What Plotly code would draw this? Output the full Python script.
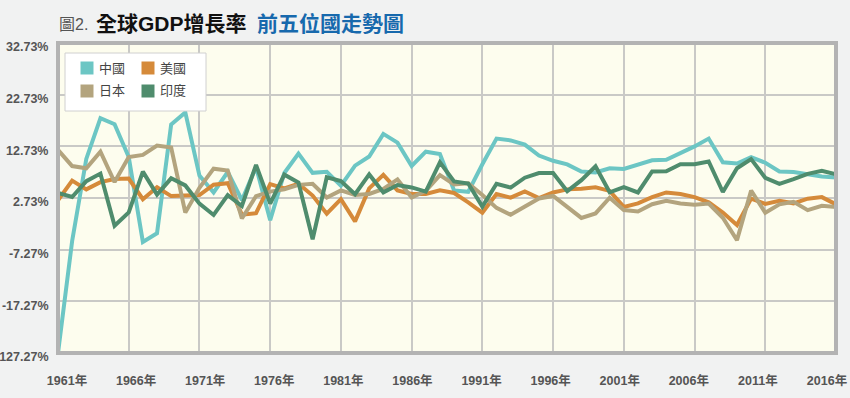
import plotly.graph_objects as go

years = list(range(1961, 2017))

china = [-27.27, -5.58, 10.30, 18.18, 17.00, 10.65, -5.77, -4.10, 16.94, 19.30,
         7.06, 3.81, 7.76, 2.31, 8.72, -1.57, 7.57, 11.33, 7.60, 7.81,
         5.11, 9.00, 10.77, 15.14, 13.44, 8.94, 11.69, 11.23, 4.19, 3.92,
         9.26, 14.22, 13.87, 13.05, 10.95, 9.93, 9.23, 7.84, 7.67, 8.49,
         8.34, 9.13, 10.04, 10.11, 11.40, 12.72, 14.23, 9.65, 9.40, 10.64,
         9.55, 7.86, 7.77, 7.30, 6.90, 6.70]
usa = [2.30, 6.10, 4.40, 5.80, 6.40, 6.50, 2.50, 4.80, 3.10, 3.20,
       3.30, 5.30, 5.60, -0.50, -0.20, 5.40, 4.60, 5.50, 3.20, -0.30,
       2.50, -1.80, 4.60, 7.20, 4.20, 3.50, 3.50, 4.20, 3.70, 1.90,
       -0.10, 3.50, 2.80, 4.00, 2.70, 3.80, 4.40, 4.50, 4.80, 4.10,
       1.00, 1.70, 2.90, 3.80, 3.50, 2.90, 1.90, -0.10, -2.50, 2.60,
       1.60, 2.20, 1.70, 2.60, 2.90, 1.50]
japan = [12.04, 8.91, 8.47, 11.68, 5.82, 10.64, 11.08, 12.88, 12.48, -0.10,
         4.70, 8.41, 8.03, -1.23, 3.09, 3.97, 4.39, 5.27, 5.48, 2.82,
         4.21, 3.31, 3.52, 4.50, 6.33, 2.83, 4.11, 7.15, 5.37, 5.57,
         3.32, 0.82, -0.52, 1.09, 2.63, 3.13, 0.98, -1.13, -0.25, 2.78,
         0.41, 0.12, 1.53, 2.20, 1.66, 1.42, 1.65, -1.09, -5.42, 4.19,
         -0.12, 1.50, 2.00, 0.38, 1.22, 1.00]
india = [3.72, 2.93, 5.99, 7.45, -2.64, -0.06, 7.83, 3.39, 6.54, 5.16,
         1.64, -0.55, 3.30, 1.19, 9.15, 1.66, 7.25, 5.71, -5.24, 6.74,
         6.01, 3.48, 7.29, 3.82, 5.25, 4.78, 3.97, 9.63, 5.95, 5.53,
         1.06, 5.48, 4.75, 6.66, 7.57, 7.55, 4.05, 6.18, 8.85, 3.84,
         4.82, 3.80, 7.86, 7.92, 9.28, 9.26, 9.80, 3.89, 8.48, 10.26,
         6.64, 5.46, 6.39, 7.41, 8.00, 7.30]

series_names = ["中國", "美國", "日本", "印度"]
series_values = [china, usa, japan, india]
series_colors = ["#6cc6c4", "#d58a3a", "#b3a47e", "#4f8c6d"]

y_tickvals = [-27.27, -17.27, -7.27, 2.73, 12.73, 22.73, 32.73]
y_ticktext = ["-127.27%", "-17.27%", "-7.27%", "2.73%", "12.73%", "22.73%", "32.73%"]
x_tickvals = list(range(1961, 2017, 5))
x_ticktext = [f"{y}年" for y in x_tickvals]

title_prefix = "圖2."
title_main = "全球GDP增長率"
title_sub = "前五位國走勢圖"

W, H = 850, 398
L, R, T, B = 58, 836, 43, 353  # plot area pixels
PAGE_BG = "#f1f2f2"

def px(x):
    return (x - L) / (R - L)

def py(y):
    return (B - y) / (B - T)

FONT = "Liberation Sans, Arial, Noto Sans CJK TC, sans-serif"

fig = go.Figure()
for name, vals, col in zip(series_names, series_values, series_colors):
    fig.add_trace(go.Scatter(x=years, y=vals, mode="lines", name=name,
                             line=dict(color=col, width=4), showlegend=False,
                             hoverinfo="skip"))

# dummy trace on xaxis2 that only carries the year labels
fig.add_trace(go.Scatter(x=[years[0]], y=[None], xaxis="x2", showlegend=False,
                         hoverinfo="skip"))

label_first_px, label_last_px = 67, 827
span = (label_last_px - label_first_px) / (years[-1] - years[0])
x2_range = [years[0] - (label_first_px - L) / span,
            years[0] + (R - label_first_px) / span]

tickfont = dict(family=FONT, size=12.5, color="#555555", weight="bold")

fig.update_layout(
    width=W, height=H,
    margin=dict(l=L, r=W - R, t=T, b=H - B, pad=0),
    paper_bgcolor=PAGE_BG,
    plot_bgcolor="#fdfdee",
    showlegend=False,
    font=dict(family=FONT),
    xaxis=dict(range=[years[0], years[-1]], tickvals=x_tickvals,
               showticklabels=False, showgrid=True, gridcolor="#c9c9c6",
               gridwidth=2, zeroline=False, showline=False, automargin=False),
    xaxis2=dict(range=x2_range, overlaying="x", anchor="y", side="bottom",
                tickvals=x_tickvals, ticktext=x_ticktext, showgrid=False,
                zeroline=False, showline=False, ticks="outside", ticklen=16,
                tickcolor="rgba(0,0,0,0)", tickfont=tickfont, automargin=False),
    yaxis=dict(range=[y_tickvals[0], y_tickvals[-1]], tickvals=y_tickvals,
               ticktext=y_ticktext, showgrid=True, gridcolor="#c9c9c6",
               gridwidth=2, zeroline=False, showline=False, ticks="outside",
               ticklen=6, tickcolor="rgba(0,0,0,0)", tickfont=tickfont,
               ticklabelshift=4, automargin=False),
)

shapes = []
shapes.append(dict(type="rect", xref="paper", yref="paper", x0=0, x1=1, y0=0, y1=1,
                   line=dict(color="#b3b3b3", width=4), layer="above"))
shapes.append(dict(type="rect", xref="paper", yref="paper", x0=px(65), x1=px(206),
                   y0=py(111), y1=py(53), fillcolor="#ffffff",
                   line=dict(color="#d0d0d0", width=1), layer="above"))
annotations = []
legend_pos = [(87, 68), (148, 68), (87, 91), (148, 91)]
for (cx, cy), name, col in zip(legend_pos, series_names, series_colors):
    shapes.append(dict(type="rect", xref="paper", yref="paper",
                       x0=px(cx - 6.5), x1=px(cx + 6.5), y0=py(cy + 6.5), y1=py(cy - 6.5),
                       fillcolor=col, line=dict(width=0), layer="above"))
    annotations.append(dict(xref="paper", yref="paper", x=px(cx + 10), y=py(cy),
                            xanchor="left", yanchor="middle", showarrow=False,
                            text=name, font=dict(family=FONT, size=13, color="#444444")))

annotations.append(dict(xref="paper", yref="paper", x=px(57), y=py(24),
                        xanchor="left", yanchor="middle", showarrow=False,
                        text=title_prefix, font=dict(family=FONT, size=16, color="#555555")))
annotations.append(dict(xref="paper", yref="paper", x=px(94), y=py(23),
                        xanchor="left", yanchor="middle", showarrow=False,
                        text=f"<b>{title_main}</b>", font=dict(family=FONT, size=21, color="#111111")))
annotations.append(dict(xref="paper", yref="paper", x=px(255), y=py(23),
                        xanchor="left", yanchor="middle", showarrow=False,
                        text=f"<b>{title_sub}</b>", font=dict(family=FONT, size=21, color="#1769ad")))

fig.update_layout(shapes=shapes, annotations=annotations)
fig.write_html("out.html", config={"displayModeBar": False},
               post_script=f"document.body.style.margin='0';document.body.style.background='{PAGE_BG}';")
